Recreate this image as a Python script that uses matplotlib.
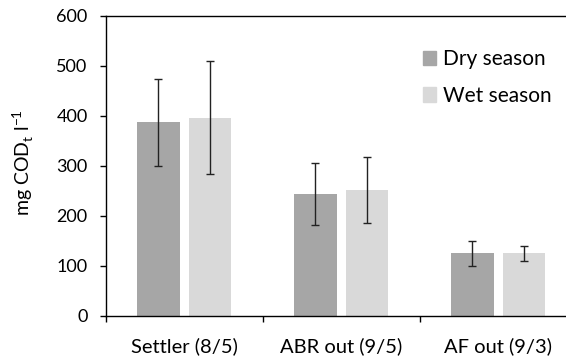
import matplotlib
matplotlib.use("Agg")
import matplotlib.pyplot as plt
import numpy as np
from matplotlib.patches import Patch

plt.rcParams['font.family'] = ['Lato', 'DejaVu Sans']

categories = ["Settler (8/5)", "ABR out (9/5)", "AF out (9/3)"]
dry_mean = [387, 243, 125]
dry_sd = [87, 62, 25]
wet_mean = [396, 252, 125]
wet_sd = [113, 66, 15]
series_names = ["Dry season", "Wet season"]
colors = ["#a6a6a6", "#d9d9d9"]

W, H = 566, 361
fig = plt.figure(figsize=(W / 100, H / 100), dpi=100)
# plot box: left spine at ~106 px, continues past the right edge of the figure
x0, y_top, y_bot, cat_px = 105.7, 15.7, 316.0, 157.0
ax = fig.add_axes([x0 / W, 1 - y_bot / H, 1 - x0 / W, (y_bot - y_top) / H])

x = np.arange(len(categories))
w = 0.272
off = 0.164
ax.bar(x - off, dry_mean, w, color=colors[0], zorder=2)
ax.bar(x + off, wet_mean, w, color=colors[1], zorder=2)
ekw = dict(fmt='none', ecolor='#222222', elinewidth=1.0, capsize=3.0, capthick=1.0, zorder=3)
ax.errorbar(x - off, dry_mean, yerr=dry_sd, **ekw)
ax.errorbar(x + off, wet_mean, yerr=wet_sd, **ekw)

ax.set_ylim(0, 600)
ax.set_yticks(range(0, 601, 100))
ax.set_xlim(-0.5, -0.5 + (W - x0) / cat_px)

ax.set_xticks(x)
ax.set_xticklabels(categories, fontsize=14.5)
ax.tick_params(axis='x', which='major', length=0, pad=15)
ax.set_xticks([-0.5, 0.5, 1.5], minor=True)
ax.tick_params(axis='x', which='minor', length=4.5, width=1, direction='out')
ax.tick_params(axis='y', length=4.5, width=1, direction='out', labelsize=13, pad=8.5)

for s in ['left', 'bottom', 'top']:
    ax.spines[s].set_linewidth(1.0)
    ax.spines[s].set_color('black')
ax.spines['right'].set_visible(False)

ax.set_ylabel(r"mg COD$_\mathregular{t}$ l$^\mathregular{-1}$", fontsize=14)
ax.yaxis.set_label_coords(-0.152, 0.51)

handles = [Patch(color=c) for c in colors]
fig.legend(handles, series_names, loc='upper left',
           bbox_to_anchor=(423 / W, 1 - 49 / H),
           frameon=False, fontsize=15, handlelength=0.63, handleheight=0.68,
           handletextpad=0.32, labelspacing=0.8, borderpad=0, borderaxespad=0)

fig.savefig("out.png", dpi=100)
